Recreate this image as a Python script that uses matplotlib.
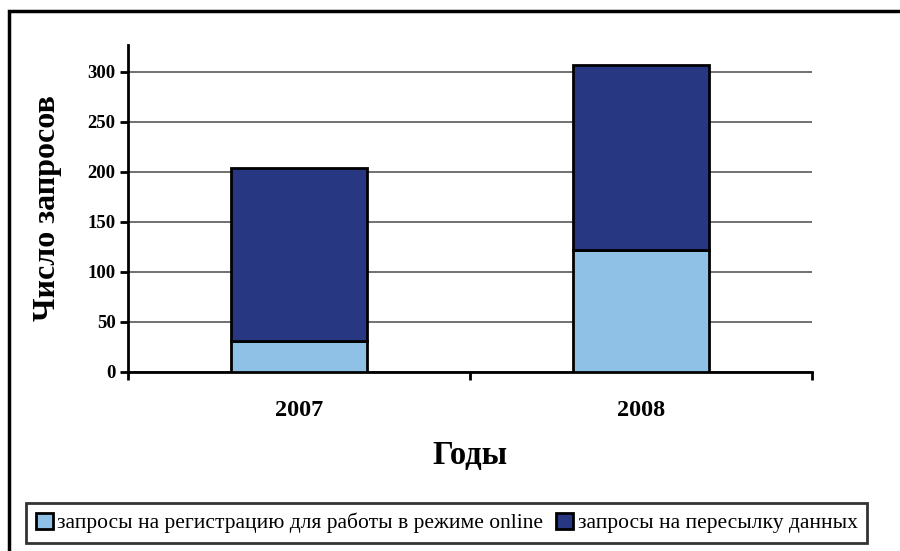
import matplotlib.pyplot as plt
import numpy as np
from matplotlib.patches import Rectangle

years = ['2007', '2008']
online_reg = [31, 122]
data_transfer = [173, 185]
series_names = ['запросы на регистрацию для работы в режиме online',
                'запросы на пересылку данных']

plt.rcParams['font.family'] = ['Liberation Serif', 'DejaVu Serif']

fig = plt.figure(figsize=(9, 5.51), dpi=100)
ax = fig.add_axes([128/900, 1-372/551, 684/900, 327/551])

x = np.arange(len(years))
w = 0.4
ax.bar(x, online_reg, w, color='#8FC1E7', edgecolor='black', linewidth=2, zorder=3)
ax.bar(x, data_transfer, w, bottom=online_reg, color='#283781', edgecolor='black',
       linewidth=2, zorder=3)

ax.set_xlim(-0.5, 1.5)
ax.set_ylim(0, 327)
ax.set_yticks(range(0, 301, 50))
ax.grid(axis='y', color='#666666', linewidth=1.3, zorder=0)
for lbl in ax.get_yticklabels():
    lbl.set_fontweight('bold')
ax.tick_params(axis='y', labelsize=13.5, width=2, length=6, direction='out', pad=3)

ax.set_xticks([-0.5, 0.5, 1.5])
ax.set_xticklabels([])
ax.tick_params(axis='x', width=2, length=6, direction='out')
ax.set_xticks(x, minor=True)
ax.set_xticklabels(years, minor=True, fontsize=17.5, fontweight='bold')
ax.tick_params(axis='x', which='minor', length=0, pad=20)

for s in ['top', 'right']:
    ax.spines[s].set_visible(False)
ax.spines['left'].set_linewidth(2)
ax.spines['bottom'].set_linewidth(2)

ax.set_ylabel('Число запросов', fontsize=23, fontweight='bold', labelpad=18)
ax.set_xlabel('Годы', fontsize=23.5, fontweight='bold', labelpad=14)

# outer frame
fig.patches.append(Rectangle((9/900, -0.05), 1.1, 1-11/551+0.05, transform=fig.transFigure,
                             fill=False, edgecolor='black', linewidth=2.5))

leg = fig.legend(series_names, loc='lower left', bbox_to_anchor=(26/900, 8/551),
                 ncol=2, fontsize=15.5, frameon=True, fancybox=False, edgecolor='black',
                 handlelength=0.8, handleheight=0.8, handletextpad=0.2, columnspacing=0.6,
                 borderpad=0.45, borderaxespad=0)
leg.get_frame().set_linewidth(2)

fig.savefig('out.png', dpi=100)
